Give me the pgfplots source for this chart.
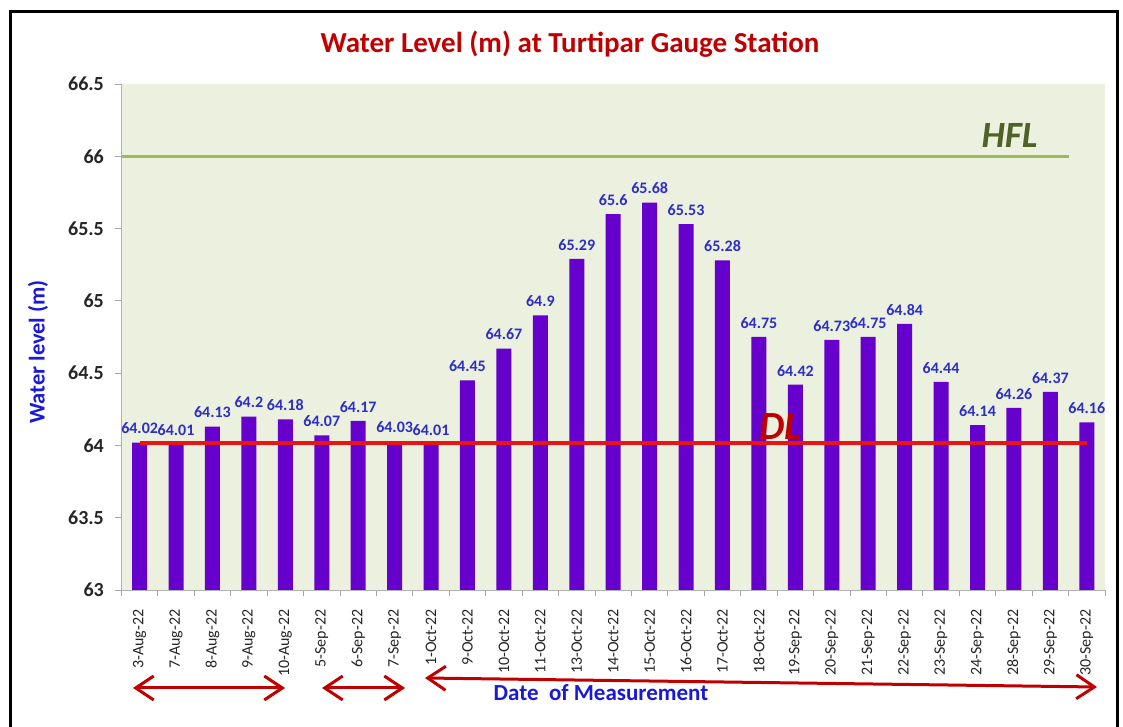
\documentclass[border=0pt]{standalone}
\usepackage{fontspec}
\setmainfont{Carlito}
\usepackage{pgfplots}
\usepackage{pgfplotstable}
\pgfplotsset{compat=1.18}
\usetikzlibrary{arrows.meta}
\definecolor{barpurple}{RGB}{102,0,204}
\definecolor{bgreen}{RGB}{235,241,222}
\definecolor{titlered}{RGB}{192,0,0}
\definecolor{lblblue}{RGB}{45,45,200}
\definecolor{axblue}{RGB}{25,25,220}
\definecolor{hflgreen}{RGB}{155,187,89}
\definecolor{hfltext}{RGB}{79,98,40}
\definecolor{dlred}{RGB}{235,20,20}

\pgfplotstableread{
x y lab
0 64.02 64.02
1 64.01 64.01
2 64.13 64.13
3 64.2 64.2
4 64.18 64.18
5 64.07 64.07
6 64.17 64.17
7 64.03 64.03
8 64.01 64.01
9 64.45 64.45
10 64.67 64.67
11 64.9 64.9
12 65.29 65.29
13 65.6 65.6
14 65.68 65.68
15 65.53 65.53
16 65.28 65.28
17 64.75 64.75
18 64.42 64.42
19 64.73 64.73
20 64.75 64.75
21 64.84 64.84
22 64.44 64.44
23 64.14 64.14
24 64.26 64.26
25 64.37 64.37
26 64.16 64.16
}\datatable

\begin{document}
\begin{tikzpicture}[x=1pt,y=1pt]
\path[use as bounding box] (0,0) rectangle (1123,727);
\fill[white] (0,0) rectangle (1123,727);
\draw[line width=3pt] (10,-2) -- (10,715) -- (1117,715) -- (1117,-2);

\begin{axis}[
  at={(121.4pt,137pt)}, anchor=south west,
  scale only axis, width=983.6pt, height=506pt,
  xmin=-0.5, xmax=26.5, ymin=63, ymax=66.5,
  axis background/.style={fill=bgreen},
  axis lines*=left,
  axis line style={draw=black!30},
  tick align=outside,
  major tick length=6pt, minor tick length=6pt,
  tick style={draw=black!35, line width=0.8pt},
  ytick={63,63.5,64,64.5,65,65.5,66,66.5},
  /pgf/number format/assume math mode=true,
  yticklabel style={font=\fontsize{20}{20}\selectfont\bfseries, text=black!85, xshift=-8pt},
  xtick={0,...,26},
  xticklabels={3-Aug-22,7-Aug-22,8-Aug-22,9-Aug-22,10-Aug-22,5-Sep-22,6-Sep-22,7-Sep-22,1-Oct-22,9-Oct-22,10-Oct-22,11-Oct-22,13-Oct-22,14-Oct-22,15-Oct-22,16-Oct-22,17-Oct-22,18-Oct-22,19-Sep-22,20-Sep-22,21-Sep-22,22-Sep-22,23-Sep-22,24-Sep-22,28-Sep-22,29-Sep-22,30-Sep-22},
  major x tick style={draw=none},
  minor xtick={-0.5,0.5,...,26.5},
  xticklabel style={rotate=90, anchor=east, font=\fontsize{16}{16}\selectfont, text=black!85, xshift=-10pt},
]
\addplot[ybar, bar width=15pt, fill=barpurple, draw=none,
  nodes near coords, point meta=explicit symbolic,
  nodes near coords style={font=\fontsize{16}{16}\selectfont\bfseries, text=lblblue, yshift=5pt}]
  table[x=x, y=y, meta=lab] {\datatable};
\addplot[hflgreen, line width=3pt] coordinates {(-0.5,66) (25.5,66)};
\addplot[dlred, line width=4pt] coordinates {(0,64.02) (26,64.02)};
\node[font=\fontsize{37}{37}\selectfont\bfseries\itshape, text=hfltext] at (axis cs:23.88,66.147) {HFL};
\node[font=\fontsize{40}{40}\selectfont\bfseries\itshape, text=titlered] at (axis cs:17.6,64.134) {DL};
\end{axis}

\node[font=\fontsize{29}{29}\selectfont\bfseries, text=titlered] at (570,683) {Water Level (m) at Turtipar Gauge Station};
\node[rotate=90, font=\fontsize{22.5}{22.5}\selectfont\bfseries, text=axblue] at (38,375) {Water level (m)};
\node[font=\fontsize{23}{23}\selectfont\bfseries, text=axblue] at (601,34) {Date\ \ of Measurement};

\begin{scope}[titlered, line width=3pt]
\draw[{Straight Barb[length=18pt,width=24pt]}-{Straight Barb[length=18pt,width=24pt]}] (133,39) -- (285,39);
\draw[{Straight Barb[length=18pt,width=24pt]}-{Straight Barb[length=18pt,width=24pt]}] (322,39) -- (405,39);
\draw[{Straight Barb[length=18pt,width=24pt]}-{Straight Barb[length=18pt,width=24pt]}] (425,49) -- (1097,40);
\end{scope}
\end{tikzpicture}
\end{document}
